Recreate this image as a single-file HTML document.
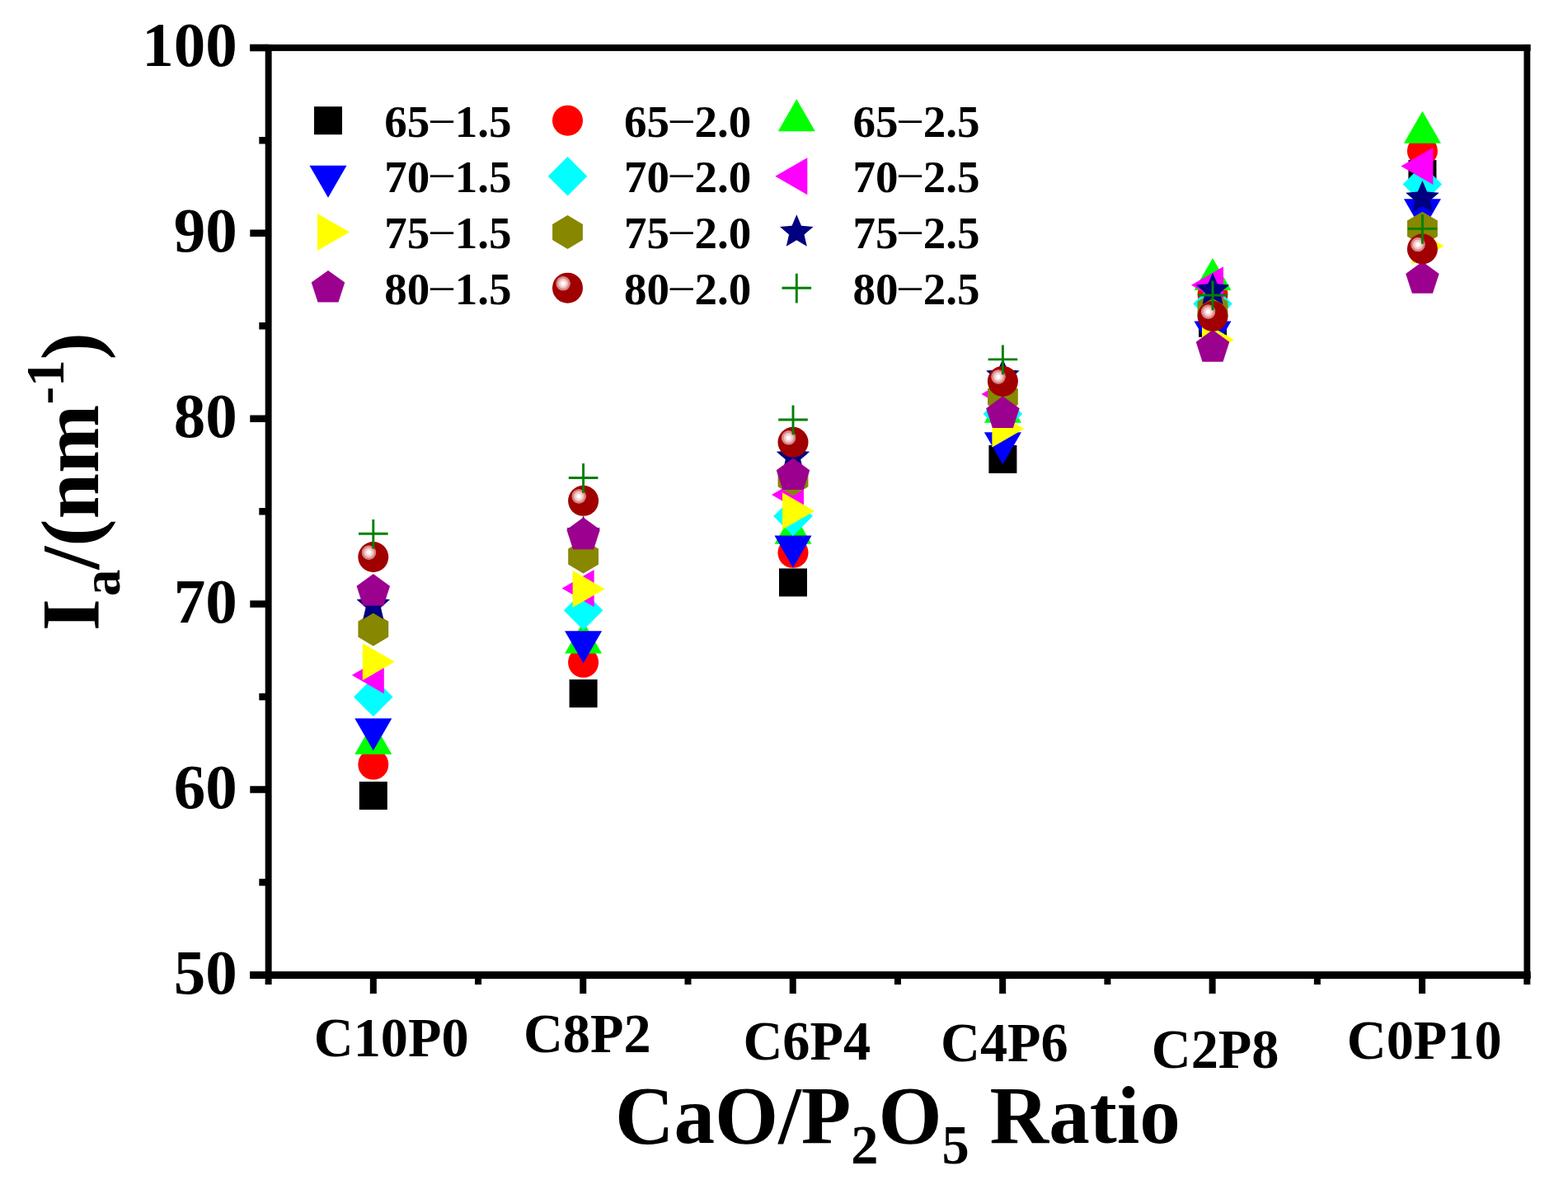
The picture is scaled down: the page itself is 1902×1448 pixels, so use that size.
<!DOCTYPE html>
<html><head><meta charset="utf-8"><style>
html,body{margin:0;padding:0;background:#fff;}
svg{display:block;}
text{font-family:"Liberation Serif","Times New Roman",serif;font-weight:bold;fill:#000;}
</style></head><body>
<svg width="1902" height="1448" viewBox="0 0 1902 1448">
<defs><radialGradient id="hl" cx="0.5" cy="0.5" r="0.5">
<stop offset="0" stop-color="#ffffff"/><stop offset="0.22" stop-color="#ffffff"/><stop offset="0.38" stop-color="#f8d4d4"/>
<stop offset="0.62" stop-color="#efbcbc"/><stop offset="0.72" stop-color="#dc9090"/><stop offset="0.94" stop-color="#d07878"/>
<stop offset="1" stop-color="#b02020"/></radialGradient></defs>
<rect width="1902" height="1448" fill="#fff"/>
<rect x="435.8" y="947.9" width="34" height="34" fill="#000000"/>
<rect x="690.6" y="824" width="34" height="34" fill="#000000"/>
<rect x="945" y="689.4" width="34" height="34" fill="#000000"/>
<rect x="1199.4" y="539.9" width="34" height="34" fill="#000000"/>
<rect x="1454" y="374.8" width="34" height="34" fill="#000000"/>
<rect x="1708.4" y="194.1" width="34" height="34" fill="#000000"/>
<circle cx="452.8" cy="927.1" r="18.5" fill="#FF0000"/>
<circle cx="707.6" cy="803.3" r="18.5" fill="#FF0000"/>
<circle cx="962" cy="670.3" r="18.5" fill="#FF0000"/>
<circle cx="1216.4" cy="500" r="18.5" fill="#FF0000"/>
<circle cx="1471" cy="357" r="18.5" fill="#FF0000"/>
<circle cx="1725.4" cy="183" r="18.5" fill="#FF0000"/>
<polygon points="452.8,875.8 475.32,914.8 430.28,914.8" fill="#00FF00"/>
<polygon points="707.6,753.5 730.12,792.5 685.08,792.5" fill="#00FF00"/>
<polygon points="962,620.8 984.52,659.8 939.48,659.8" fill="#00FF00"/>
<polygon points="1216.4,473.7 1238.92,512.7 1193.88,512.7" fill="#00FF00"/>
<polygon points="1471,312.9 1493.52,351.9 1448.48,351.9" fill="#00FF00"/>
<polygon points="1725.4,134.8 1747.92,173.8 1702.88,173.8" fill="#00FF00"/>
<polygon points="452.8,910.3 430.28,871.3 475.32,871.3" fill="#0000FF"/>
<polygon points="707.6,804.2 685.08,765.2 730.12,765.2" fill="#0000FF"/>
<polygon points="962,688.4 939.48,649.4 984.52,649.4" fill="#0000FF"/>
<polygon points="1216.4,563.3 1193.88,524.3 1238.92,524.3" fill="#0000FF"/>
<polygon points="1471,428.4 1448.48,389.4 1493.52,389.4" fill="#0000FF"/>
<polygon points="1725.4,280.3 1702.88,241.3 1747.92,241.3" fill="#0000FF"/>
<polygon points="452.8,821.5 476.6,845.3 452.8,869.1 429,845.3" fill="#00FFFF"/>
<polygon points="707.6,716.5 731.4,740.3 707.6,764.1 683.8,740.3" fill="#00FFFF"/>
<polygon points="962,602.3 985.8,626.1 962,649.9 938.2,626.1" fill="#00FFFF"/>
<polygon points="1216.4,478.1 1240.2,501.9 1216.4,525.7 1192.6,501.9" fill="#00FFFF"/>
<polygon points="1471,344.7 1494.8,368.5 1471,392.3 1447.2,368.5" fill="#00FFFF"/>
<polygon points="1725.4,199.7 1749.2,223.5 1725.4,247.3 1701.6,223.5" fill="#00FFFF"/>
<polygon points="426.8,818.8 465.8,796.28 465.8,841.32" fill="#FF00FF"/>
<polygon points="681.6,713.6 720.6,691.08 720.6,736.12" fill="#FF00FF"/>
<polygon points="936,600 975,577.48 975,622.52" fill="#FF00FF"/>
<polygon points="1190.4,477.9 1229.4,455.38 1229.4,500.42" fill="#FF00FF"/>
<polygon points="1445,345.8 1484,323.28 1484,368.32" fill="#FF00FF"/>
<polygon points="1699.4,201.4 1738.4,178.88 1738.4,223.92" fill="#FF00FF"/>
<polygon points="478.8,802.6 439.8,825.12 439.8,780.08" fill="#FFFF00"/>
<polygon points="733.6,714.2 694.6,736.72 694.6,691.68" fill="#FFFF00"/>
<polygon points="988,619.8 949,642.32 949,597.28" fill="#FFFF00"/>
<polygon points="1242.4,519.9 1203.4,542.42 1203.4,497.38" fill="#FFFF00"/>
<polygon points="1497,412.1 1458,434.62 1458,389.58" fill="#FFFF00"/>
<polygon points="1751.4,298.2 1712.4,320.72 1712.4,275.68" fill="#FFFF00"/>
<polygon points="452.8,742.5 471.2,753.4 471.2,772.6 452.8,783.5 434.4,772.6 434.4,753.4" fill="#878700"/>
<polygon points="707.6,654.5 726,665.4 726,684.6 707.6,695.5 689.2,684.6 689.2,665.4" fill="#878700"/>
<polygon points="962,560.2 980.4,571.1 980.4,590.3 962,601.2 943.6,590.3 943.6,571.1" fill="#878700"/>
<polygon points="1216.4,460.65 1234.8,471.55 1234.8,490.75 1216.4,501.65 1198,490.75 1198,471.55" fill="#878700"/>
<polygon points="1471,354.5 1489.4,365.4 1489.4,384.6 1471,395.5 1452.6,384.6 1452.6,365.4" fill="#878700"/>
<polygon points="1725.4,256.7 1743.8,267.6 1743.8,286.8 1725.4,297.7 1707,286.8 1707,267.6" fill="#878700"/>
<polygon points="452.8,712.4 458.5,725.85 473.06,727.12 462.03,736.7 465.32,750.93 452.8,743.4 440.28,750.93 443.57,736.7 432.54,727.12 447.1,725.85" fill="#000080"/>
<polygon points="707.6,625.5 713.3,638.95 727.86,640.22 716.83,649.8 720.12,664.03 707.6,656.5 695.08,664.03 698.37,649.8 687.34,640.22 701.9,638.95" fill="#000080"/>
<polygon points="962,533 967.7,546.45 982.26,547.72 971.23,557.3 974.52,571.53 962,564 949.48,571.53 952.77,557.3 941.74,547.72 956.3,546.45" fill="#000080"/>
<polygon points="1216.4,434.9 1222.1,448.35 1236.66,449.62 1225.63,459.2 1228.92,473.43 1216.4,465.9 1203.88,473.43 1207.17,459.2 1196.14,449.62 1210.7,448.35" fill="#000080"/>
<polygon points="1471,330.7 1476.7,344.15 1491.26,345.42 1480.23,355 1483.52,369.23 1471,361.7 1458.48,369.23 1461.77,355 1450.74,345.42 1465.3,344.15" fill="#000080"/>
<polygon points="1725.4,219 1731.1,232.45 1745.66,233.72 1734.63,243.3 1737.92,257.53 1725.4,250 1712.88,257.53 1716.17,243.3 1705.14,233.72 1719.7,232.45" fill="#000080"/>
<polygon points="452.8,696.05 473.06,710.77 465.32,734.58 440.28,734.58 432.54,710.77" fill="#9C008E"/>
<polygon points="707.6,627.6 727.86,642.32 720.12,666.13 695.08,666.13 687.34,642.32" fill="#9C008E"/>
<polygon points="962,555.5 982.26,570.22 974.52,594.03 949.48,594.03 941.74,570.22" fill="#9C008E"/>
<polygon points="1216.4,480.5 1236.66,495.22 1228.92,519.03 1203.88,519.03 1196.14,495.22" fill="#9C008E"/>
<polygon points="1471,400.1 1491.26,414.82 1483.52,438.63 1458.48,438.63 1450.74,414.82" fill="#9C008E"/>
<polygon points="1725.4,317.2 1745.66,331.92 1737.92,355.73 1712.88,355.73 1705.14,331.92" fill="#9C008E"/>
<circle cx="452.8" cy="675.5" r="18.5" fill="#A00000"/><circle cx="447.4" cy="670.1" r="9" fill="url(#hl)"/>
<circle cx="707.6" cy="607.35" r="18.5" fill="#A00000"/><circle cx="702.2" cy="601.95" r="9" fill="url(#hl)"/>
<circle cx="962" cy="536.25" r="18.5" fill="#A00000"/><circle cx="956.6" cy="530.85" r="9" fill="url(#hl)"/>
<circle cx="1216.4" cy="462.4" r="18.5" fill="#A00000"/><circle cx="1211" cy="457" r="9" fill="url(#hl)"/>
<circle cx="1471" cy="383.5" r="18.5" fill="#A00000"/><circle cx="1465.6" cy="378.1" r="9" fill="url(#hl)"/>
<circle cx="1725.4" cy="302" r="18.5" fill="#A00000"/><circle cx="1720" cy="296.6" r="9" fill="url(#hl)"/>
<path d="M435 647.3H470.6M452.8 629.9V665.6" stroke="#008000" stroke-width="2.9" fill="none"/>
<path d="M689.8 579.5H725.4M707.6 562.1V597.8" stroke="#008000" stroke-width="2.9" fill="none"/>
<path d="M944.2 509H979.8M962 491.6V527.3" stroke="#008000" stroke-width="2.9" fill="none"/>
<path d="M1198.6 435.9H1234.2M1216.4 418.5V454.2" stroke="#008000" stroke-width="2.9" fill="none"/>
<path d="M1453.2 358H1488.8M1471 340.6V376.3" stroke="#008000" stroke-width="2.9" fill="none"/>
<path d="M1707.6 277.4H1743.2M1725.4 260V295.7" stroke="#008000" stroke-width="2.9" fill="none"/>
<rect x="303.3" y="53.9" width="1553.3" height="8" fill="#000"/>
<rect x="303.3" y="1178" width="1553.4" height="9" fill="#000"/>
<rect x="321.7" y="53.9" width="7.9" height="1133.1" fill="#000"/>
<rect x="1848.45" y="53.9" width="7.8" height="1133.1" fill="#000"/>
<path d="M303.3 1182.4H325.6M314.3 1069.95H325.6M303.3 957.5H325.6M314.3 845.05H325.6M303.3 732.6H325.6M314.3 620.15H325.6M303.3 507.7H325.6M314.3 395.25H325.6M303.3 282.8H325.6M314.3 170.35H325.6M303.3 57.9H325.6" stroke="#000" stroke-width="8.5" fill="none"/>
<path d="M325.6 1182.4V1194M580.05 1182.4V1194M834.5 1182.4V1194M1088.95 1182.4V1194M1343.4 1182.4V1194M1597.85 1182.4V1194M1852.3 1182.4V1194M452.82 1182.4V1205M707.27 1182.4V1205M961.72 1182.4V1205M1216.17 1182.4V1205M1470.62 1182.4V1205M1725.07 1182.4V1205" stroke="#000" stroke-width="8" fill="none"/>
<text x="287.8" y="1204.9" font-size="77" text-anchor="end">50</text>
<text x="287.8" y="980" font-size="77" text-anchor="end">60</text>
<text x="287.8" y="755.1" font-size="77" text-anchor="end">70</text>
<text x="287.8" y="530.2" font-size="77" text-anchor="end">80</text>
<text x="287.8" y="305.3" font-size="77" text-anchor="end">90</text>
<text x="287.8" y="80.4" font-size="77" text-anchor="end">100</text>
<text transform="translate(380.86,1280.7) scale(0.975,1)" font-size="68">C10P0</text>
<text transform="translate(634.96,1276.4) scale(0.975,1)" font-size="68">C8P2</text>
<text transform="translate(901.46,1285.4) scale(0.975,1)" font-size="68">C6P4</text>
<text transform="translate(1141.06,1287.2) scale(0.975,1)" font-size="68">C4P6</text>
<text transform="translate(1396.76,1294.7) scale(0.975,1)" font-size="68">C2P8</text>
<text transform="translate(1633.76,1284.2) scale(0.975,1)" font-size="68">C0P10</text>
<rect x="381" y="129.2" width="34" height="34" fill="#000000"/>
<text x="466.3" y="166.1" font-size="55">65<tspan font-weight="normal" dx="0.9" dy="-6.6">–</tspan><tspan dx="2" dy="6.6">1.5</tspan></text>
<circle cx="688.5" cy="146.2" r="18.5" fill="#FF0000"/>
<text x="757" y="166.1" font-size="55">65<tspan font-weight="normal" dx="0.9" dy="-6.6">–</tspan><tspan dx="2" dy="6.6">2.0</tspan></text>
<polygon points="966.3,120.2 988.82,159.2 943.78,159.2" fill="#00FF00"/>
<text x="1034.4" y="166.1" font-size="55">65<tspan font-weight="normal" dx="0.9" dy="-6.6">–</tspan><tspan dx="2" dy="6.6">2.5</tspan></text>
<polygon points="398,239.8 375.48,200.8 420.52,200.8" fill="#0000FF"/>
<text x="466.3" y="232.7" font-size="55">70<tspan font-weight="normal" dx="0.9" dy="-6.6">–</tspan><tspan dx="2" dy="6.6">1.5</tspan></text>
<polygon points="688.5,190 712.3,213.8 688.5,237.6 664.7,213.8" fill="#00FFFF"/>
<text x="757" y="232.7" font-size="55">70<tspan font-weight="normal" dx="0.9" dy="-6.6">–</tspan><tspan dx="2" dy="6.6">2.0</tspan></text>
<polygon points="940.3,213.8 979.3,191.28 979.3,236.32" fill="#FF00FF"/>
<text x="1034.4" y="232.7" font-size="55">70<tspan font-weight="normal" dx="0.9" dy="-6.6">–</tspan><tspan dx="2" dy="6.6">2.5</tspan></text>
<polygon points="424,281.5 385,304.02 385,258.98" fill="#FFFF00"/>
<text x="466.3" y="301.2" font-size="55">75<tspan font-weight="normal" dx="0.9" dy="-6.6">–</tspan><tspan dx="2" dy="6.6">1.5</tspan></text>
<polygon points="688.5,261 706.9,271.9 706.9,291.1 688.5,302 670.1,291.1 670.1,271.9" fill="#878700"/>
<text x="757" y="301.2" font-size="55">75<tspan font-weight="normal" dx="0.9" dy="-6.6">–</tspan><tspan dx="2" dy="6.6">2.0</tspan></text>
<polygon points="966.3,260.2 972,273.65 986.56,274.92 975.53,284.5 978.82,298.73 966.3,291.2 953.78,298.73 957.07,284.5 946.04,274.92 960.6,273.65" fill="#000080"/>
<text x="1034.4" y="301.2" font-size="55">75<tspan font-weight="normal" dx="0.9" dy="-6.6">–</tspan><tspan dx="2" dy="6.6">2.5</tspan></text>
<polygon points="398,327.9 418.26,342.62 410.52,366.43 385.48,366.43 377.74,342.62" fill="#9C008E"/>
<text x="466.3" y="369.3" font-size="55">80<tspan font-weight="normal" dx="0.9" dy="-6.6">–</tspan><tspan dx="2" dy="6.6">1.5</tspan></text>
<circle cx="688.5" cy="349.2" r="18.5" fill="#A00000"/><circle cx="683.1" cy="343.8" r="9" fill="url(#hl)"/>
<text x="757" y="369.3" font-size="55">80<tspan font-weight="normal" dx="0.9" dy="-6.6">–</tspan><tspan dx="2" dy="6.6">2.0</tspan></text>
<path d="M948.5 349.2H984.1M966.3 331.8V367.5" stroke="#008000" stroke-width="2.9" fill="none"/>
<text x="1034.4" y="369.3" font-size="55">80<tspan font-weight="normal" dx="0.9" dy="-6.6">–</tspan><tspan dx="2" dy="6.6">2.5</tspan></text>
<text transform="translate(745.9,1385.7) scale(0.9915,1)" font-size="100">CaO/P<tspan font-size="67" dy="25.5">2</tspan><tspan dy="-25.5">O</tspan><tspan font-size="67" dy="25.5">5</tspan><tspan dy="-25.5"> Ratio</tspan></text>
<text transform="translate(118.9,765) rotate(-90)" font-size="100">I<tspan font-size="65" dy="26.3" dx="3">a</tspan><tspan dy="-26.3">/(nm</tspan><tspan font-size="65" dy="-41.5">-1</tspan><tspan dy="41.5">)</tspan></text>
</svg></body></html>
